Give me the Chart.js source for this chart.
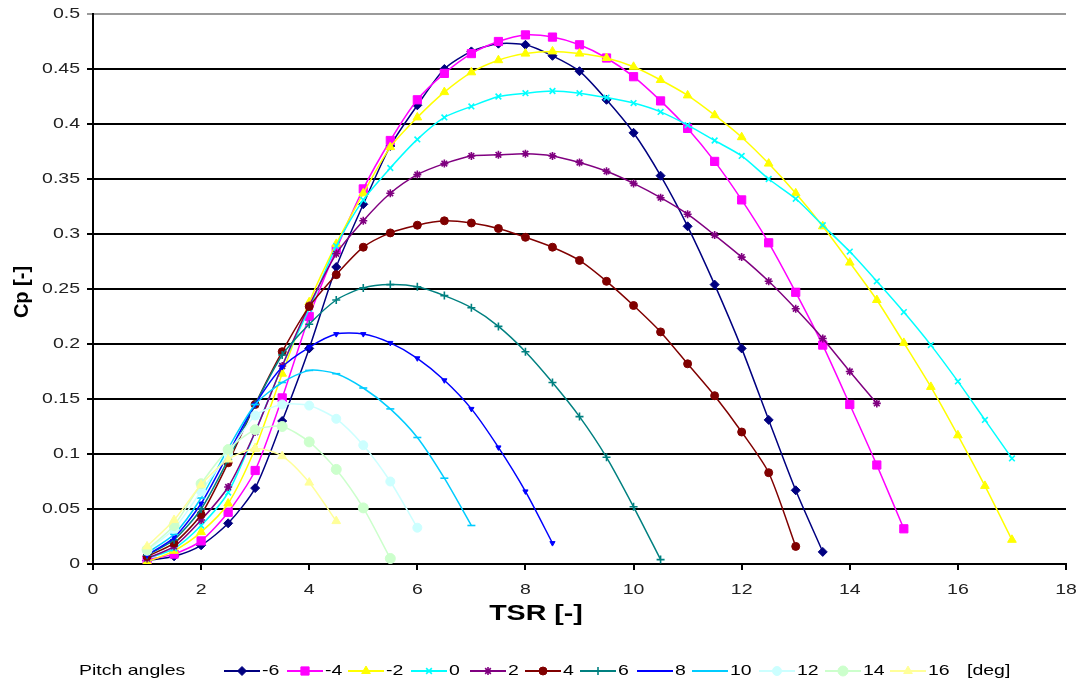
<!DOCTYPE html>
<html>
<head>
<meta charset="utf-8">
<script src="https://cdn.jsdelivr.net/npm/chart.js@4.4.0/dist/chart.umd.min.js"></script>
<style>
  html, body { margin: 0; padding: 0; background: #fff; }
  #wrap { width: 1077px; height: 683px; position: relative; }
</style>
</head>
<body>
<div id="wrap"><canvas id="cpChart"></canvas></div>
<script>
// TSR values of the points (same for every pitch angle, series just stop earlier)
const tsr = [1, 1.5, 2, 2.5, 3, 3.5, 4, 4.5, 5, 5.5, 6, 6.5, 7, 7.5, 8, 8.5, 9,
             9.5, 10, 10.5, 11, 11.5, 12, 12.5, 13, 13.5, 14, 14.5, 15, 15.5, 16, 16.5, 17]

const pitchAngles = ['-6', '-4', '-2', '0', '2', '4', '6', '8', '10', '12', '14', '16']

// Cp, one array per pitch angle
const cpM6 = [0.003, 0.007, 0.017, 0.037, 0.069, 0.13, 0.196, 0.27, 0.327, 0.38, 0.417, 0.45, 0.466,
              0.473, 0.472, 0.462, 0.448, 0.422, 0.392, 0.353, 0.307, 0.254, 0.196, 0.131, 0.067, 0.011]
const cpM4 = [0.004, 0.009, 0.021, 0.047, 0.085, 0.151, 0.225, 0.286, 0.341, 0.385, 0.422, 0.446, 0.464,
              0.475, 0.481, 0.479, 0.472, 0.46, 0.443, 0.421, 0.396, 0.366, 0.331, 0.292, 0.247, 0.199,
              0.145, 0.09, 0.032]
const cpM2 = [0.002, 0.012, 0.029, 0.055, 0.105, 0.173, 0.238, 0.291, 0.337, 0.379, 0.406, 0.429, 0.447,
              0.458, 0.464, 0.466, 0.464, 0.46, 0.452, 0.44, 0.426, 0.408, 0.388, 0.364, 0.337, 0.307,
              0.274, 0.24, 0.201, 0.161, 0.117, 0.071, 0.022]
const cp0 = [0.005, 0.014, 0.035, 0.065, 0.12, 0.18, 0.232, 0.289, 0.331, 0.36, 0.386, 0.406, 0.416,
             0.425, 0.428, 0.43, 0.428, 0.424, 0.419, 0.411, 0.399, 0.385, 0.371, 0.35, 0.332, 0.308,
             0.284, 0.257, 0.229, 0.199, 0.166, 0.131, 0.096]
const cp2 = [0.005, 0.016, 0.04, 0.07, 0.12, 0.18, 0.235, 0.282, 0.312, 0.337, 0.354, 0.364, 0.371,
             0.372, 0.373, 0.371, 0.365, 0.357, 0.346, 0.333, 0.318, 0.299, 0.279, 0.257, 0.232, 0.205,
             0.175, 0.146]
const cp4 = [0.007, 0.019, 0.045, 0.092, 0.145, 0.193, 0.234, 0.263, 0.288, 0.301, 0.308, 0.312, 0.31,
             0.305, 0.297, 0.288, 0.276, 0.257, 0.235, 0.211, 0.182, 0.153, 0.12, 0.083, 0.016]
const cp6 = [0.008, 0.022, 0.05, 0.095, 0.145, 0.19, 0.218, 0.24, 0.251, 0.254, 0.252, 0.244, 0.233,
             0.216, 0.193, 0.165, 0.134, 0.097, 0.052, 0.004]
const cp8 = [0.008, 0.024, 0.055, 0.1, 0.145, 0.179, 0.197, 0.209, 0.209, 0.201, 0.187, 0.167, 0.141,
             0.106, 0.066, 0.019]
const cp10 = [0.01, 0.027, 0.06, 0.105, 0.145, 0.165, 0.176, 0.173, 0.16, 0.141, 0.115, 0.078, 0.035]
const cp12 = [0.012, 0.032, 0.066, 0.1, 0.135, 0.145, 0.144, 0.132, 0.108, 0.075, 0.033]
const cp14 = [0.013, 0.035, 0.073, 0.104, 0.122, 0.125, 0.111, 0.086, 0.051, 0.005]
const cp16 = [0.016, 0.04, 0.072, 0.095, 0.105, 0.098, 0.074, 0.039]

const cpSeries = [cpM6, cpM4, cpM2, cp0, cp2, cp4, cp6, cp8, cp10, cp12, cp14, cp16]

const xTicks = [0, 2, 4, 6, 8, 10, 12, 14, 16, 18]
const yTicks = [0, 0.05, 0.1, 0.15, 0.2, 0.25, 0.3, 0.35, 0.4, 0.45, 0.5]

// styling, Excel 2003 palette
const colors = ['#000080', '#FF00FF', '#FFFF00', '#00FFFF', '#800080', '#800000',
                '#008080', '#0000FF', '#00CCFF', '#CCFFFF', '#CCFFCC', '#FFFF99']
const markers = [
    { style: 'rectRot', r: 4.5, rot: 0 },
    { style: 'rect', r: 5.8, rot: 0 },
    { style: 'triangle', r: 5, rot: 0 },
    { style: 'crossRot', r: 4, rot: 0 },
    { style: 'star', r: 4, rot: 0 },
    { style: 'circle', r: 4, rot: 0 },
    { style: 'cross', r: 4, rot: 0 },
    { style: 'triangle', r: 3, rot: 180 },
    { style: 'line', r: 4, rot: 0 },
    { style: 'circle', r: 4.5, rot: 0 },
    { style: 'circle', r: 5, rot: 0 },
    { style: 'triangle', r: 5, rot: 0 }
]
const legendMarker = [true, true, true, true, true, true, true, false, false, true, true, true]
const legendX = [224, 287, 348, 411, 470, 525, 580, 637, 692, 759, 825, 890]

const FONT = '"Liberation Sans", Arial, sans-serif'
// the old picture has all its text a bit wider than tall
const STRETCH = 1.3

function wideText(ctx, text, x, y, align) {
    ctx.save()
    ctx.translate(x, y)
    ctx.scale(STRETCH, 1)
    ctx.textAlign = align
    ctx.fillText(text, 0, 0)
    ctx.restore()
}

const datasets = cpSeries.map((vals, i) => ({
    label: pitchAngles[i],
    data: vals.map((v, j) => ({ x: tsr[j], y: v })),
    borderColor: colors[i],
    backgroundColor: colors[i],
    borderWidth: 1.5,
    pointStyle: markers[i].style,
    pointRadius: markers[i].r,
    pointRotation: markers[i].rot,
    pointBorderWidth: ['crossRot', 'star', 'cross', 'line'].includes(markers[i].style) ? 1.6 : 1,
    pointHoverRadius: markers[i].r,
    tension: 0.25,
    order: -i
}))

const extrasPlugin = {
    id: 'extras',
    afterDraw(chart) {
        const ctx = chart.ctx
        const xs = chart.scales.x
        const ys = chart.scales.y
        ctx.save()
        ctx.textBaseline = 'middle'

        // tick labels
        ctx.fillStyle = '#222'
        ctx.font = '15px ' + FONT
        xs.ticks.forEach(t => {
            wideText(ctx, String(t.value), xs.getPixelForValue(t.value), 590, 'center')
        })
        ys.ticks.forEach(t => {
            wideText(ctx, String(+t.value.toFixed(2)), 80, ys.getPixelForValue(t.value), 'right')
        })

        // axis titles
        ctx.fillStyle = '#000'
        ctx.font = 'bold 22px ' + FONT
        wideText(ctx, 'TSR [-]', 536, 614, 'center')
        ctx.save()
        ctx.translate(22, 292)
        ctx.rotate(-Math.PI / 2)
        ctx.font = 'bold 20px ' + FONT
        ctx.textAlign = 'center'
        ctx.fillText('Cp [-]', 0, 0)
        ctx.restore()

        // legend
        const y = 671
        ctx.font = '15px ' + FONT
        wideText(ctx, 'Pitch angles', 79, y, 'left')
        chart.data.datasets.forEach((ds, i) => {
            const x = legendX[i]
            ctx.strokeStyle = ds.borderColor
            ctx.fillStyle = ds.borderColor
            ctx.lineWidth = 2
            ctx.beginPath()
            ctx.moveTo(x, y)
            ctx.lineTo(x + 36, y)
            ctx.stroke()
            if (legendMarker[i]) {
                ctx.lineWidth = ds.pointBorderWidth
                Chart.helpers.drawPoint(ctx, {
                    pointStyle: ds.pointStyle,
                    radius: ds.pointRadius,
                    rotation: ds.pointRotation,
                    borderWidth: ds.pointBorderWidth
                }, x + 18, y)
            }
            ctx.fillStyle = '#000'
            wideText(ctx, ds.label, x + 38, y, 'left')
        })
        wideText(ctx, '[deg]', 967, y, 'left')
        ctx.restore()
    }
}

new Chart(document.getElementById('cpChart'), {
    type: 'line',
    data: { datasets: datasets },
    plugins: [extrasPlugin],
    options: {
        responsive: true,
        maintainAspectRatio: false,
        animation: false,
        layout: { padding: { left: 0, top: 14, right: 11, bottom: 0 } },
        plugins: {
            legend: { display: false },
            tooltip: { enabled: false }
        },
        scales: {
            x: {
                type: 'linear',
                min: 0,
                max: 18,
                afterFit: s => { s.height = 119 },
                afterBuildTicks: s => { s.ticks = xTicks.map(v => ({ value: v })) },
                ticks: { display: false },
                grid: {
                    drawOnChartArea: false,
                    drawTicks: true,
                    tickLength: 6,
                    color: '#000',
                    lineWidth: 2
                },
                border: { display: true, color: '#000', width: 2 }
            },
            y: {
                min: 0,
                max: 0.5,
                afterFit: s => { s.width = 93 },
                afterBuildTicks: s => { s.ticks = yTicks.map(v => ({ value: v })) },
                ticks: { display: false },
                grid: {
                    color: c => c.tick && c.tick.value === 0.5 ? '#9a9a9a' : '#000',
                    lineWidth: 2,
                    tickLength: 6
                },
                border: { display: true, color: '#000', width: 2 }
            }
        }
    }
})
</script>
</body>
</html>
